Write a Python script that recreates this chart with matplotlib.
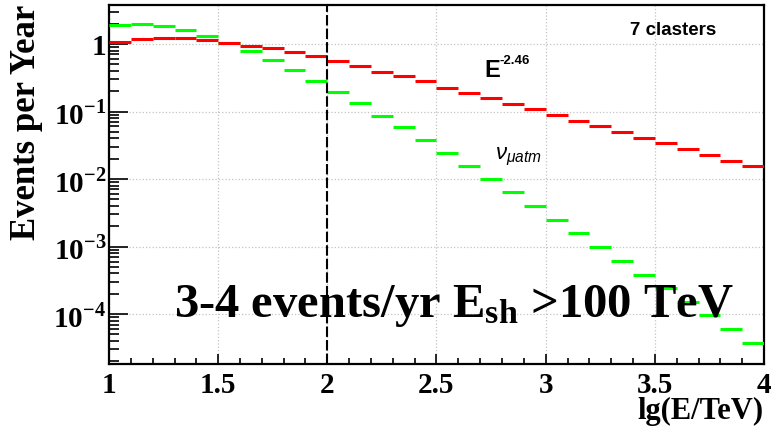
import numpy as np
import matplotlib
matplotlib.use('Agg')
import matplotlib.pyplot as plt
from matplotlib.ticker import MultipleLocator, FixedLocator, FixedFormatter, LogLocator, NullFormatter

# bins in lg(E/TeV)
x_lo, x_hi, n_bins = 1.0, 4.0, 30

# E^-2.46 spectrum (red)
astro = [1.08, 1.19, 1.24, 1.21, 1.13, 1.05, 0.93, 0.86, 0.75, 0.66,
         0.56, 0.47, 0.39, 0.34, 0.28, 0.225, 0.188, 0.157, 0.129, 0.110,
         0.0887, 0.073, 0.060, 0.050, 0.041, 0.0338, 0.0275, 0.0229, 0.0187, 0.0154]

# atmospheric muon neutrinos (green)
atm = [1.89, 2.0, 1.85, 1.60, 1.33, 1.04, 0.78, 0.58, 0.417, 0.286,
       0.197, 0.132, 0.0867, 0.058, 0.0374, 0.024, 0.0154, 0.010, 0.00635, 0.0040,
       0.0025, 0.00157, 0.00098, 0.00061, 0.00038, 0.00024, 0.000152, 9.6e-5, 6.0e-5, 3.7e-5]

xticks = [1, 1.5, 2, 2.5, 3, 3.5, 4]
xtick_labels = ['1', '1.5', '2', '2.5', '3', '3.5', '4']
yticks = [1e-4, 1e-3, 1e-2, 1e-1, 1]
ytick_labels = ['$10^{-4}$', '$10^{-3}$', '$10^{-2}$', '$10^{-1}$', '1']

cut = 2.0

plt.rcParams['font.family'] = 'Liberation Serif'
plt.rcParams['font.weight'] = 'bold'
plt.rcParams['mathtext.fontset'] = 'custom'
plt.rcParams['mathtext.rm'] = 'Liberation Serif:bold'
plt.rcParams['mathtext.bf'] = 'Liberation Serif:bold'
plt.rcParams['mathtext.it'] = 'Liberation Sans:italic:normal'

fig = plt.figure(figsize=(7.79, 4.27), dpi=100)
ax = fig.add_axes([109/779, 62/427, 655/779, 359/427])

edges = np.linspace(x_lo, x_hi, n_bins + 1)
ax.hlines(atm, edges[:-1], edges[1:], colors='#00ff00', lw=2.2, zorder=3)
ax.hlines(astro, edges[:-1], edges[1:], colors='#ff0000', lw=2.2, zorder=4)

ax.axvline(cut, color='black', lw=1.5, ls=(0, (5, 1.5)), zorder=5)

ax.set_yscale('log')
ax.set_xlim(x_lo, x_hi)
ax.set_ylim(1.82e-5, 3.78)

ax.xaxis.set_major_locator(FixedLocator(xticks))
ax.xaxis.set_major_formatter(FixedFormatter(xtick_labels))
ax.xaxis.set_minor_locator(MultipleLocator(0.1))
ax.yaxis.set_major_locator(FixedLocator(yticks))
ax.yaxis.set_major_formatter(FixedFormatter(ytick_labels))
ax.yaxis.set_minor_locator(LogLocator(base=10, subs=np.arange(2, 10)))
ax.yaxis.set_minor_formatter(NullFormatter())

ax.tick_params(axis='both', which='both', direction='in', colors='black', width=1.2)
ax.tick_params(axis='y', which='major', length=13.5, labelsize=21, pad=2)
ax.tick_params(axis='y', which='minor', length=7)
ax.tick_params(axis='x', which='major', length=7, labelsize=21, pad=5)
ax.tick_params(axis='x', which='minor', length=4)
for s in ax.spines.values():
    s.set_linewidth(1.6)

ax.grid(True, which='major', ls=':', color='#c4c4c4', lw=0.9)

fig.text(27/779, 1 - 5/427, 'Events per Year', rotation=90, ha='center', va='top',
         fontsize=25, fontweight='bold')
fig.text(764/779, 0.5/427, 'lg(E/TeV)', ha='right', va='bottom',
         fontsize=22, fontweight='bold')

ax.text(3.387, 1.41, '7 clasters', family='Liberation Sans', fontweight='bold',
        fontsize=13.5, zorder=6)
ax.text(2.72, 0.336, 'E', family='Liberation Sans', fontweight='bold',
        fontsize=17, zorder=6)
ax.text(2.79, 0.52, '-2.46', family='Liberation Sans', fontweight='bold',
        fontsize=9.5, zorder=6)
ax.text(2.77, 0.020, r'$\nu_{\mu atm}$', fontsize=16, zorder=6)

ax.text(1.30, 9.3e-5, r'3-4 events/yr $\mathrm{E_{sh}}$ >100 TeV', fontsize=35,
        fontweight='bold', zorder=6)

fig.savefig('out.png', dpi=100)
